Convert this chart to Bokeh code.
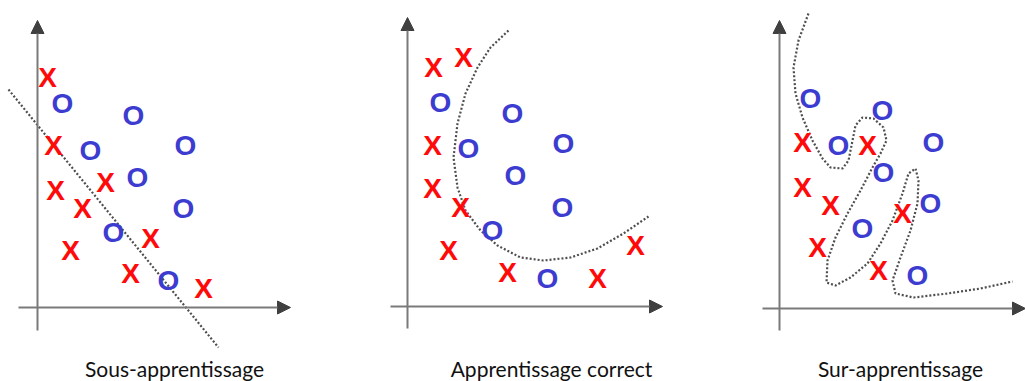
from bokeh.plotting import figure
from bokeh.layouts import row
from bokeh.models import Range1d, Arrow, NormalHead
from bokeh.core.properties import value
from bokeh.embed import file_html
from bokeh.resources import INLINE

# ---------------- data (local coordinates, axis origin = (0, 0)) ----------------
titles = ["Sous-apprentissage", "Apprentissage correct", "Sur-apprentissage"]

# Panel 1 : sous-apprentissage
p1_x_cls_x = [1.0, 1.6, 1.8, 4.5, 6.8, 3.3, 11.3, 9.3, 16.6]
p1_x_cls_y = [23.0, 16.2, 11.7, 9.9, 12.5, 5.7, 6.9, 3.4, 1.9]
p1_o_cls_x = [2.5, 9.6, 5.3, 14.8, 10.0, 14.6, 7.6, 13.1]
p1_o_cls_y = [20.4, 19.2, 15.7, 16.2, 13.0, 9.9, 7.5, 2.7]
p1_bound_x = [-2.9, 18.1]
p1_bound_y = [21.8, -4.0]

# Panel 2 : apprentissage correct
p2_x_cls_x = [2.6, 5.6, 2.5, 2.5, 5.3, 4.1, 10.0, 19.0, 22.8]
p2_x_cls_y = [23.9, 24.9, 16.1, 11.8, 9.9, 5.6, 3.4, 2.8, 6.1]
p2_o_cls_x = [3.3, 10.5, 6.1, 15.6, 10.8, 15.5, 8.5, 14.0]
p2_o_cls_y = [20.4, 19.3, 15.8, 16.3, 13.1, 9.9, 7.6, 2.8]
p2_bound_x = [10.1, 8.3, 7.0, 5.8, 5.0, 4.6, 5.0, 5.8, 7.3, 9.0, 11.3, 13.6,
              16.3, 19.0, 21.6, 24.1]
p2_bound_y = [27.6, 25.9, 23.9, 21.3, 18.3, 14.9, 11.9, 9.6, 7.6, 6.1, 4.9, 4.6,
              4.9, 5.8, 7.3, 9.0]

# Panel 3 : sur-apprentissage
p3_x_cls_x = [2.3, 8.8, 2.3, 5.1, 12.3, 3.8, 9.9]
p3_x_cls_y = [16.6, 16.3, 12.1, 10.3, 9.5, 6.1, 3.8]
p3_o_cls_x = [3.1, 10.3, 5.9, 15.4, 10.4, 15.1, 8.3, 13.8]
p3_o_cls_y = [21.0, 19.8, 16.3, 16.6, 13.6, 10.5, 8.0, 3.3]
p3_bound_x = [2.9, 1.9, 1.4, 1.6, 2.3, 3.3, 4.3, 5.1, 6.3, 6.9, 7.3, 7.6, 8.3,
              9.4, 10.4, 10.7, 10.1, 9.3, 8.1, 6.8, 5.6, 4.8, 4.7, 5.6, 7.1,
              8.8, 10.1, 11.3, 12.3, 12.9, 13.6, 13.9, 13.8, 13.1, 12.1, 11.3,
              11.6, 13.4, 16.8, 20.1, 23.3]
p3_bound_y = [29.5, 26.8, 24.1, 21.5, 19.1, 16.8, 15.0, 14.1, 14.0, 14.8, 16.8,
              18.3, 19.1, 19.0, 18.1, 16.8, 15.5, 14.1, 11.8, 9.5, 7.1, 4.8, 2.6,
              2.3, 3.1, 4.5, 6.5, 8.8, 11.5, 13.5, 14.0, 12.8, 10.5, 7.8, 5.1,
              2.8, 1.5, 1.1, 1.5, 2.0, 2.7]

# ---------------- styling ----------------
RED = "#ff0a0a"
BLUE = "#3c3cd0"
AXIS = "#7a7a7a"
HEAD = "#404040"
DOT = "#4e4e4e"
MARK_FONT = value("Liberation Sans")
CAP_FONT = value("Lato")
H = 381


def panel(width, xr, yr, xs_x, xs_y, os_x, os_y, bx, by, title, tx, axes):
    p = figure(width=width, height=H, x_range=Range1d(*xr), y_range=Range1d(*yr),
               output_backend="svg", toolbar_location=None, min_border=0,
               outline_line_color=None)
    p.axis.visible = False
    p.grid.visible = False
    (ax0, ax1), (ay0, ay1) = axes
    # axes with arrow heads
    p.add_layout(Arrow(x_start=ax0, y_start=0, x_end=ax1, y_end=0,
                       line_color=AXIS, line_width=2,
                       end=NormalHead(size=13, fill_color=HEAD, line_color=HEAD)))
    p.add_layout(Arrow(x_start=0, y_start=ay0, x_end=0, y_end=ay1,
                       line_color=AXIS, line_width=2,
                       end=NormalHead(size=13, fill_color=HEAD, line_color=HEAD)))
    # decision boundary
    p.line(bx, by, line_color=DOT, line_width=2.2, line_dash="2 2")
    # classes
    p.text(xs_x, xs_y, text=["X"] * len(xs_x), text_color=RED,
           text_font=MARK_FONT, text_font_style="bold", text_font_size="28px",
           text_align="center", text_baseline="middle")
    p.text(os_x, os_y, text=["O"] * len(os_x), text_color=BLUE,
           text_font=MARK_FONT, text_font_style="bold", text_font_size="28px",
           text_align="center", text_baseline="middle")
    # caption
    p.text([tx], [yr[0]], text=[title], text_color="#111111",
           text_font=CAP_FONT, text_font_size="21px",
           text_align="center", text_baseline="bottom", y_offset=-1)
    return p


f1 = panel(350, (-3.7, 31.3), (-7.4, 30.7), p1_x_cls_x, p1_x_cls_y, p1_o_cls_x, p1_o_cls_y,
           p1_bound_x, p1_bound_y, titles[0], 13.7, ((-1.9, 25.3), (-2.3, 28.7)))
f2 = panel(350, (-5.7, 29.3), (-7.5, 30.6), p2_x_cls_x, p2_x_cls_y, p2_o_cls_x, p2_o_cls_y,
           p2_bound_x, p2_bound_y, titles[1], 14.4, ((-1.7, 25.5), (-2.2, 28.9)))
f3 = panel(325, (-7.9, 24.6), (-7.3, 30.8), p3_x_cls_x, p3_x_cls_y, p3_o_cls_x, p3_o_cls_y,
           p3_bound_x, p3_bound_y, titles[2], 12.1, ((-1.7, 24.6), (-2.2, 28.8)))

layout = row(f1, f2, f3, spacing=0)

open("out.html", "w").write(file_html(layout, INLINE))
